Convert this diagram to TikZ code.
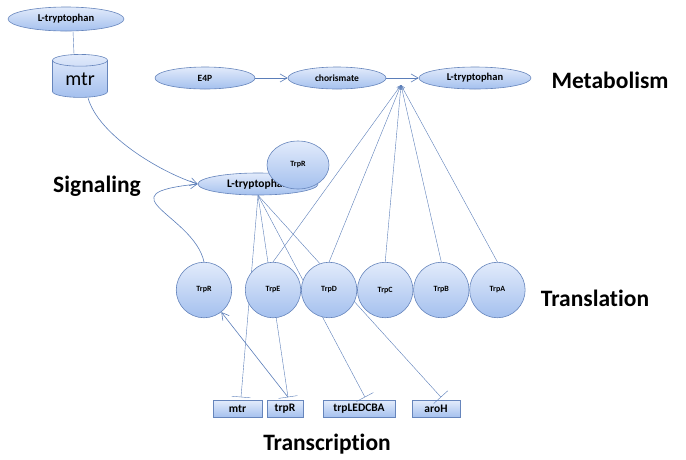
\documentclass[tikz,border=0pt]{standalone}
\usepackage{fontspec}
\setmainfont{Carlito}[Ligatures=NoCommon]
\usetikzlibrary{arrows.meta,positioning,shapes.geometric,calc}
\definecolor{nodetop}{HTML}{E2EBFB}
\definecolor{nodebot}{HTML}{A4C0EE}
\definecolor{nodeedge}{HTML}{6685BC}
\definecolor{wire}{HTML}{5B7EB9}

\begin{document}
\begin{tikzpicture}[x=1pt,y=-1pt,
  blob/.style={ellipse, draw=nodeedge, line width=0.6pt, top color=nodetop, bottom color=nodebot, inner sep=0pt, minimum height=22pt, font=\bfseries\fontsize{9.5}{11}\selectfont},
  prot/.style={circle, draw=nodeedge, line width=0.6pt, top color=nodetop, bottom color=nodebot, minimum size=55.5pt, inner sep=0pt, font=\bfseries\fontsize{8}{9}\selectfont},
  gene/.style={rectangle, draw=nodeedge, line width=0.6pt, top color=nodetop, bottom color=nodebot, minimum height=17pt, inner sep=0pt, font=\bfseries\fontsize{11.5}{13}\selectfont},
  layer/.style={font=\bfseries\fontsize{23.5}{28}\selectfont},
  arrow/.style={-{Straight Barb[length=7pt, width=8pt]}, wire, semithick},
  fanarrow/.style={-{Straight Barb[length=4pt, width=4pt]}, wire},
  block/.style={-{Bar[width=19pt]}, wire},
  link/.style={wire}
]
\useasboundingbox (0,0) rectangle (686,459);

% signaling
\node[blob, minimum width=116pt, minimum height=24pt, font=\bfseries\fontsize{10.5}{12}\selectfont] (ltrpin) at (66,19) {L-tryptophan};
\node[cylinder, shape border rotate=90, aspect=0.4, draw=nodeedge, line width=0.6pt, top color=nodetop, bottom color=nodebot,
  minimum width=55pt, minimum height=43pt, inner sep=0pt, font=\fontsize{20}{24}\selectfont] (mtr) at (80,79) {mtr};
\node[blob, minimum width=120pt, font=\bfseries\fontsize{11.5}{13}\selectfont] (ltrpm) at (258,184) {L-tryptophan};
\node[blob, minimum width=62pt, minimum height=48pt, font=\bfseries\fontsize{8}{9}\selectfont] (trprsig) at (298,165) {TrpR};

% metabolism
\node[blob, minimum width=100pt] (e4p) at (205,78) {E4P};
\node[blob, minimum width=98pt] (chor) at (337,78) {chorismate};
\node[blob, minimum width=112pt, font=\bfseries\fontsize{10.5}{12}\selectfont] (ltrpout) at (475,78) {L-tryptophan};
\coordinate (fan) at (401,85);

% transcription
\node[gene, minimum width=49pt] (mtrg) at (237.5,409) {mtr};
\node[gene, minimum width=36pt] (trpRg) at (285,409) {trpR};
\node[gene, minimum width=72pt] (trpLg) at (359,409) {trpLEDCBA};
\node[gene, minimum width=48pt] (aroHg) at (436,409) {aroH};
\coordinate (mtrbar) at ([xshift=3.5pt, yshift=3pt]mtrg.north);
\coordinate (trpRbar) at ([xshift=3pt, yshift=3pt]trpRg.north);
\coordinate (trpLbar) at ([xshift=6pt, yshift=3pt]trpLg.north);
\coordinate (aroHbar) at ([xshift=5pt, yshift=3pt]aroHg.north);

% repression lines run behind the proteins
\draw[block] (ltrpm.south) -- (mtrbar);
\draw[block] (ltrpm.south) -- (trpRbar);
\draw[block] (ltrpm.south) -- (trpLbar);
\draw[block] (ltrpm.south) -- (aroHbar);

% translation
\node[prot] (TrpR) at (204,290) {TrpR};
\node[prot] (TrpE) at (273,290) {TrpE};
\node[prot, right=0pt of TrpE] (TrpD) {TrpD};
\node[prot, right=0pt of TrpD] (TrpC) {TrpC};
\node[prot, right=0pt of TrpC] (TrpB) {TrpB};
\node[prot, right=0pt of TrpB] (TrpA) {TrpA};

% layer labels
\node[layer] (metab) at (610,80) {Metabolism};
\node[layer] (signal) at (97,186) {Signaling};
\node[layer] (transl) at (595,298) {Translation};
\node[layer] (transc) at (327,444) {Transcription};

% connectors
\draw[link] ([xshift=7pt]ltrpin.south) -- ([xshift=-6pt]mtr.north);
\draw[arrow] ([xshift=8pt]mtr.south) .. controls +(10,37) and +(-38,-12) .. (ltrpm.west);
\draw[arrow] (TrpR.north) .. controls +(-10,-47) and +(-97,10) .. (ltrpm.west);
\draw[arrow] (e4p) -- (chor);
\draw[arrow] (chor) -- (ltrpout);
\foreach \p in {TrpE,TrpD,TrpC,TrpB,TrpA}
  \draw[fanarrow] (\p.north) -- (fan);
\draw[arrow] (trpRbar) -- (TrpR);
\end{tikzpicture}
\end{document}
